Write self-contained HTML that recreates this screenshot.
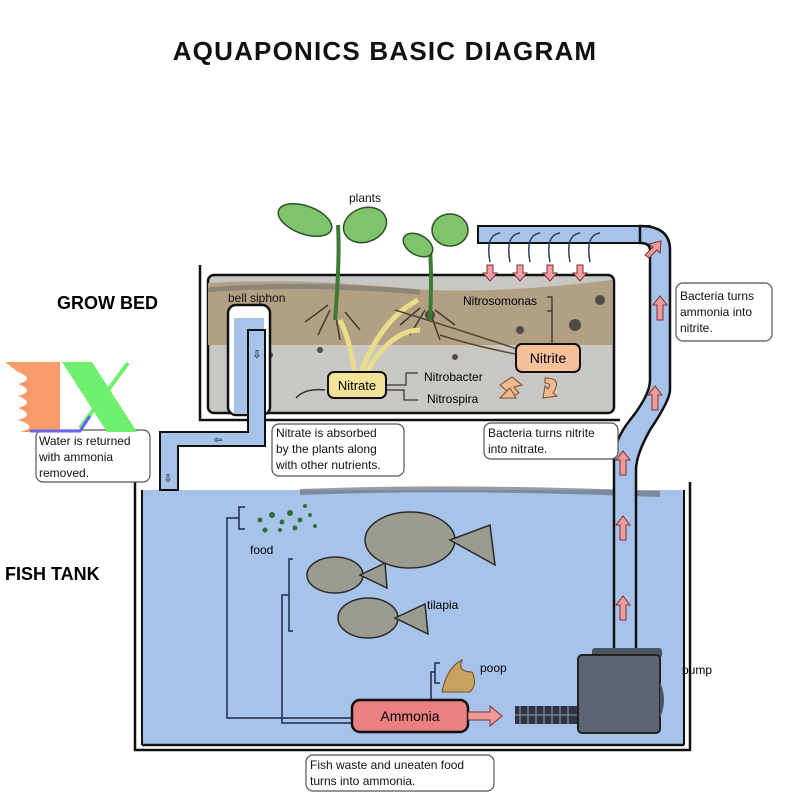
<!DOCTYPE html>
<html><head><meta charset="utf-8"><style>
html,body{margin:0;padding:0;background:#fff;}
svg{display:block;font-family:"Liberation Sans",sans-serif;}
</style></head><body>
<svg width="800" height="800" viewBox="0 0 800 800" xmlns="http://www.w3.org/2000/svg">
<rect width="800" height="800" fill="#fff"/>
<text x="385" y="60" text-anchor="middle" font-size="26" font-weight="bold" letter-spacing="1.2" fill="#111">AQUAPONICS BASIC DIAGRAM</text>

<!-- Fish tank -->
<path d="M135 482 L135 750 L690 750 L690 482" fill="none" stroke="#111" stroke-width="2.5"/>
<rect x="142" y="490" width="542" height="255" fill="#a8c3ea"/>
<path d="M142 745 L684 745" stroke="#111" stroke-width="2.5"/>
<path d="M142 490 L142 745 M684 490 L684 745" stroke="#111" stroke-width="2"/>
<path d="M300 492 Q450 486 660 494" stroke="#6a7480" stroke-width="6" fill="none" opacity="0.7"/>

<!-- Grow bed -->
<path d="M200 265 L200 420 L620 420" fill="none" stroke="#111" stroke-width="2.5"/>
<rect x="208" y="275" width="406" height="138" fill="#c9c7c4" stroke="#111" stroke-width="2.5" rx="6"/>
<path d="M208 283 Q300 278 400 288 Q480 296 612 280 L612 345 L208 345 Z" fill="#b2a084"/>
<path d="M208 290 Q300 282 420 292" stroke="#8d8577" stroke-width="5" fill="none"/>
<g fill="#4f4c48">
<circle cx="430" cy="315" r="5"/><circle cx="520" cy="330" r="4"/><circle cx="575" cy="325" r="6"/><circle cx="600" cy="300" r="5"/><circle cx="320" cy="350" r="3"/><circle cx="455" cy="357" r="3"/><circle cx="270" cy="355" r="3"/>
</g>
<g stroke="#4a3a28" stroke-width="1.5" fill="none">
<path d="M330 310 L318 335 M335 312 L340 340 M328 305 L305 322 M345 312 L360 330"/>
<path d="M425 310 L410 335 M430 312 L440 340 M420 308 L400 325 M435 310 L455 325"/>
</g>
<g>
<path d="M335 320 Q340 260 338 225" stroke="#3d7a33" stroke-width="4" fill="none"/>
<ellipse cx="305" cy="220" rx="28" ry="14" fill="#7dc46b" stroke="#2f4f2a" stroke-width="1.5" transform="rotate(20 305 220)"/>
<ellipse cx="365" cy="225" rx="22" ry="17" fill="#7dc46b" stroke="#2f4f2a" stroke-width="1.5" transform="rotate(-20 365 225)"/>
<path d="M430 320 Q432 275 430 250" stroke="#3d7a33" stroke-width="4" fill="none"/>
<ellipse cx="418" cy="245" rx="16" ry="10" fill="#7dc46b" stroke="#2f4f2a" stroke-width="1.5" transform="rotate(30 418 245)"/>
<ellipse cx="450" cy="230" rx="18" ry="16" fill="#7dc46b" stroke="#2f4f2a" stroke-width="1.5"/>
</g>
<text x="365" y="202" text-anchor="middle" font-size="12" fill="#111">plants</text>
<g stroke="#e9dc8a" stroke-width="5" fill="none">
<path d="M355 375 Q350 340 340 320"/><path d="M360 375 Q380 320 418 300"/><path d="M365 375 Q390 330 420 330"/>
</g>
<g stroke="#5a4630" stroke-width="1.5" fill="none">
<path d="M520 350 Q460 330 395 310"/><path d="M520 355 Q470 345 440 335"/>
</g>
<rect x="478" y="226" width="172" height="17" fill="#a8c3ea" stroke="#111" stroke-width="2"/>
<g stroke="#2a3e60" stroke-width="1.5" fill="none">
<path d="M490 262 Q485 235 500 233 M510 262 Q505 235 520 233 M530 262 Q525 235 540 233 M550 262 Q545 235 560 233 M570 262 Q565 235 580 233 M590 262 Q585 235 600 233"/>
</g>
<g fill="#f0a0a0" stroke="#7a3030" stroke-width="1">
<path d="M487 265 h6 v8 h4 l-7 8 l-7 -8 h4z"/><path d="M517 265 h6 v8 h4 l-7 8 l-7 -8 h4z"/><path d="M547 265 h6 v8 h4 l-7 8 l-7 -8 h4z"/><path d="M577 265 h6 v8 h4 l-7 8 l-7 -8 h4z"/>
</g>
<path d="M640 226 Q670 226 670 250 L670 390 Q670 400 650 430 Q636 455 636 470 L636 650 L614 650 L614 460 Q614 440 630 420 Q650 395 650 380 L650 250 Q650 243 640 243 Z" fill="#a8c3ea" stroke="#111" stroke-width="2.5"/>
<g fill="#f09b9b" stroke="#7a3030" stroke-width="1">
<path d="M657 320 v-15 h-4 l7 -9 l7 9 h-4 v15z"/>
<path d="M620 540 v-15 h-4 l7 -9 l7 9 h-4 v15z"/>
<path d="M620 620 v-15 h-4 l7 -9 l7 9 h-4 v15z"/>
<path d="M620 475 v-15 h-4 l7 -9 l7 9 h-4 v15z"/>
<path d="M652 410 v-15 h-4 l7 -9 l7 9 h-4 v15z"/>
<path d="M645 255 l8 -8 l-4 -3 l12 -3 l-1 12 l-3 -3 l-8 8z"/>
</g>
<rect x="228" y="305" width="42" height="110" rx="8" fill="#fff" stroke="#111" stroke-width="2.5"/>
<rect x="234" y="318" width="30" height="95" fill="#a8c3ea"/>
<path d="M248 330 L248 432 L160 432 L160 490 L178 490 L178 446 L265 446 L265 330 Z" fill="#a8c3ea" stroke="#111" stroke-width="2"/>
<text x="257" y="358" text-anchor="middle" font-size="11">⇩</text>
<text x="168" y="482" text-anchor="middle" font-size="11">⇩</text>
<text x="218" y="443" text-anchor="middle" font-size="10">⇦</text>
<text x="228" y="302" font-size="12" fill="#111">bell siphon</text>
<rect x="328" y="372" width="58" height="26" rx="6" fill="#f3e39a" stroke="#111" stroke-width="2"/>
<text x="357" y="390" text-anchor="middle" font-size="13">Nitrate</text>
<rect x="516" y="344" width="64" height="28" rx="6" fill="#f5c09a" stroke="#111" stroke-width="2"/>
<text x="548" y="363" text-anchor="middle" font-size="14">Nitrite</text>
<text x="463" y="305" font-size="12">Nitrosomonas</text>
<path d="M547 297 h5 v48 M547 311 h5" stroke="#111" fill="none"/>
<text x="424" y="381" font-size="12">Nitrobacter</text>
<text x="427" y="403" font-size="12">Nitrospira</text>
<path d="M386 385 h20 v-12 h12 M386 390 h18 v10 h14" stroke="#111" fill="none"/>
<g fill="#f5b98f" stroke="#7a4a2a" stroke-width="1">
<path d="M500 385 l12 -8 l10 8 l-8 2 l5 6 l-8 4 l-4 -6z"/><path d="M500 398 l10 -10 l6 10z"/><path d="M545 378 q18 0 8 15 l4 3 l-14 2 l2 -12 l3 3 q4 -6 -3 -6z"/>
</g>
<path d="M325 390 Q305 388 296 398" stroke="#333" fill="none" stroke-width="1.5"/>
<rect x="272" y="424" width="132" height="52" rx="7" fill="#fff" stroke="#555" stroke-width="1.2"/>
<text font-size="12" fill="#111"><tspan x="276" y="437">Nitrate is absorbed</tspan><tspan x="276" y="453">by the plants along</tspan><tspan x="276" y="469">with other nutrients.</tspan></text>
<rect x="484" y="423" width="134" height="36" rx="7" fill="#fff" stroke="#555" stroke-width="1.2"/>
<text font-size="12" fill="#111"><tspan x="488" y="437">Bacteria turns nitrite</tspan><tspan x="488" y="453">into nitrate.</tspan></text>
<rect x="676" y="283" width="96" height="58" rx="7" fill="#fff" stroke="#555" stroke-width="1.2"/>
<text font-size="12" fill="#111"><tspan x="680" y="300">Bacteria turns</tspan><tspan x="680" y="316">ammonia into</tspan><tspan x="680" y="332">nitrite.</tspan></text>
<rect x="36" y="430" width="114" height="52" rx="7" fill="#fff" stroke="#555" stroke-width="1.2"/>
<text font-size="12" fill="#111"><tspan x="39" y="445">Water is returned</tspan><tspan x="39" y="461">with ammonia</tspan><tspan x="39" y="477">removed.</tspan></text>
<path d="M5 362 h55 v70 h-40 q20 -5 -2 -12 q18 -5 0 -12 q18 -5 0 -12 q18 -5 0 -12 q18 -5 0 -12 z" fill="#f89a6a"/>
<path d="M62 362 h30 l45 70 h-30 z" fill="#6ef06e"/>
<path d="M80 428 l48 -65" stroke="#6ef06e" stroke-width="4"/>
<path d="M30 431 h50 l10 -15" stroke="#6666ee" stroke-width="3" fill="none"/>
<text x="57" y="309" font-size="18" font-weight="bold">GROW BED</text>
<text x="5" y="580" font-size="18" font-weight="bold">FISH TANK</text>
<path d="M245 507 h-6 v22 h6 M239 518 h-12 v200 h125" stroke="#1a2a44" stroke-width="1.5" fill="none"/>
<g fill="#2f6e3a"><circle cx="260" cy="520" r="2.5"/><circle cx="272" cy="515" r="3"/><circle cx="282" cy="522" r="2.5"/><circle cx="290" cy="513" r="3"/><circle cx="300" cy="520" r="2.5"/><circle cx="310" cy="515" r="2"/><circle cx="265" cy="530" r="2.5"/><circle cx="280" cy="530" r="2"/><circle cx="295" cy="528" r="2.5"/><circle cx="305" cy="506" r="2"/><circle cx="315" cy="526" r="2"/></g>
<text x="250" y="554" font-size="12">food</text>
<g fill="#9a9a8e" stroke="#2a2a2a" stroke-width="1.5">
<ellipse cx="410" cy="540" rx="45" ry="28"/><path d="M450 540 l40 -15 l5 40 z"/>
<ellipse cx="335" cy="575" rx="28" ry="18"/><path d="M360 575 l25 -12 l2 25 z"/>
<ellipse cx="368" cy="618" rx="30" ry="20"/><path d="M395 618 l30 -14 l3 30 z"/>
</g>
<path d="M293 559 h-4 v72 h4 M289 595 h-7 v128 h70" stroke="#1a2a44" stroke-width="1.5" fill="none"/>
<text x="427" y="609" font-size="12">tilapia</text>
<path d="M440 663 h-5 v20 h5 M435 672 h-4 v28" stroke="#1a2a44" stroke-width="1.5" fill="none"/>
<path d="M442 692 q5 -25 20 -32 q-5 12 10 12 q6 12 -2 20 z" fill="#c8a060" stroke="#6a5028"/>
<text x="480" y="672" font-size="12">poop</text>
<rect x="352" y="700" width="116" height="32" rx="8" fill="#ea8080" stroke="#111" stroke-width="2.5"/>
<text x="410" y="721" text-anchor="middle" font-size="14">Ammonia</text>
<path d="M468 712 h22 v-6 l12 10 l-12 10 v-6 h-22z" fill="#f09b9b" stroke="#7a3030"/>
<rect x="515" y="706" width="62" height="18" fill="#334" />
<path d="M520 706 v18 M528 706 v18 M536 706 v18 M544 706 v18 M552 706 v18 M560 706 v18 M568 706 v18 M515 715 h62" stroke="#8aa" stroke-width="1"/>
<rect x="592" y="648" width="70" height="10" rx="3" fill="#4c5462"/>
<rect x="578" y="655" width="82" height="78" rx="4" fill="#5d6575" stroke="#222" stroke-width="2"/>
<path d="M660 682 q8 18 0 36 z" fill="#4c5462"/>
<text x="682" y="674" font-size="12">pump</text>
<rect x="306" y="755" width="188" height="36" rx="7" fill="#fff" stroke="#555" stroke-width="1.2"/>
<text font-size="12" fill="#111"><tspan x="310" y="769">Fish waste and uneaten food</tspan><tspan x="310" y="785">turns into ammonia.</tspan></text>
</svg>
</body></html>
